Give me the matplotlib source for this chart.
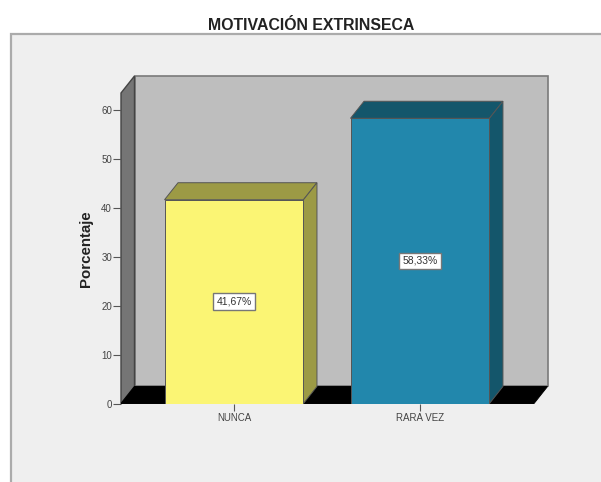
#!/usr/bin/env python3

import matplotlib
matplotlib.use("Agg")
import matplotlib.pyplot as plt
from matplotlib.patches import Polygon, Rectangle

categories = ["NUNCA", "RARA VEZ"]
values = [41.67, 58.33]
value_labels = ["41,67%", "58,33%"]
y_ticks = [0, 10, 20, 30, 40, 50, 60]

front_colors = ["#fbf574", "#2287ac"]
shade_colors = ["#9c9a45", "#14566b"]

W, H = 601, 482

## depth of the fake 3d box, in data units
dx = 0.0726
dy = 3.48
bar_w = 0.747
x_min, x_max = -0.6075, 1.613
y_min, y_max = 0, 63.5

plt.rcParams["font.family"] = ["Liberation Sans", "DejaVu Sans"]

fig = plt.figure(figsize=(W / 100, H / 100), dpi=100, facecolor="white")

## grey chart frame, runs off the right and bottom of the image
fig.patches.append(Rectangle((11 / W, -0.02), 1.02, (H - 34.5) / H + 0.02,
                             transform=fig.transFigure, facecolor="#efefef",
                             edgecolor="#ababab", linewidth=1.6, zorder=-1))

ax = fig.add_axes([121 / W, (H - 403.5) / H, 413 / W, 310.5 / H])
ax.set_zorder(2)
ax.set_xlim(x_min, x_max)
ax.set_ylim(y_min, y_max)
ax.patch.set_alpha(0)
for s in ax.spines.values():
    s.set_visible(False)


def poly(points, color, edge="#555555", lw=0.7, z=1):
    ax.add_patch(Polygon(points, closed=True, facecolor=color, edgecolor=edge,
                         linewidth=lw, zorder=z, clip_on=False))


## back wall, side wall, floor
poly([(x_min + dx, dy), (x_max + dx, dy), (x_max + dx, y_max + dy), (x_min + dx, y_max + dy)],
     "#bebebe", edge="#7a7a7a", lw=1.2)
poly([(x_min, 0), (x_min + dx, dy), (x_min + dx, y_max + dy), (x_min, y_max)], "#757575", edge="#444444", lw=1.0)
poly([(x_min, 0), (x_max, 0), (x_max + dx, dy), (x_min + dx, dy)], "#000000", edge="#000000", z=2)

## bars
for i, v in enumerate(values):
    l = i - bar_w / 2
    r = i + bar_w / 2
    ax.bar(i, v, width=bar_w, color=front_colors[i], edgecolor="#555555", linewidth=0.7, zorder=4)
    poly([(l, v), (r, v), (r + dx, v + dy), (l + dx, v + dy)], shade_colors[i], z=3)
    poly([(r, 0), (r + dx, dy), (r + dx, v + dy), (r, v)], shade_colors[i], z=3)
    ax.text(i, v / 2, value_labels[i], ha="center", va="center", fontsize=7.5, color="#333333", zorder=5,
            bbox=dict(boxstyle="square,pad=0.3", facecolor="white", edgecolor="#777777", linewidth=1.0))

ax.set_yticks(y_ticks)
ax.set_xticks(range(len(categories)))
ax.set_xticklabels(categories)
ax.tick_params(axis="y", length=6, width=0.8, color="#555555", labelsize=7, labelcolor="#444444", pad=0.5)
ax.tick_params(axis="x", length=5, width=0.8, color="#555555", labelsize=7, labelcolor="#444444", pad=2)

fig.text(86 / W, (H - 249) / H, "Porcentaje", rotation=90, ha="center", va="center",
         fontsize=10.8, fontweight="bold", color="#222222")
fig.text(311 / W, (H - 25) / H, "MOTIVACIÓN EXTRINSECA", ha="center", va="center",
         fontsize=11.4, fontweight="bold", color="#222222")

plt.savefig("out.png", dpi=100)
